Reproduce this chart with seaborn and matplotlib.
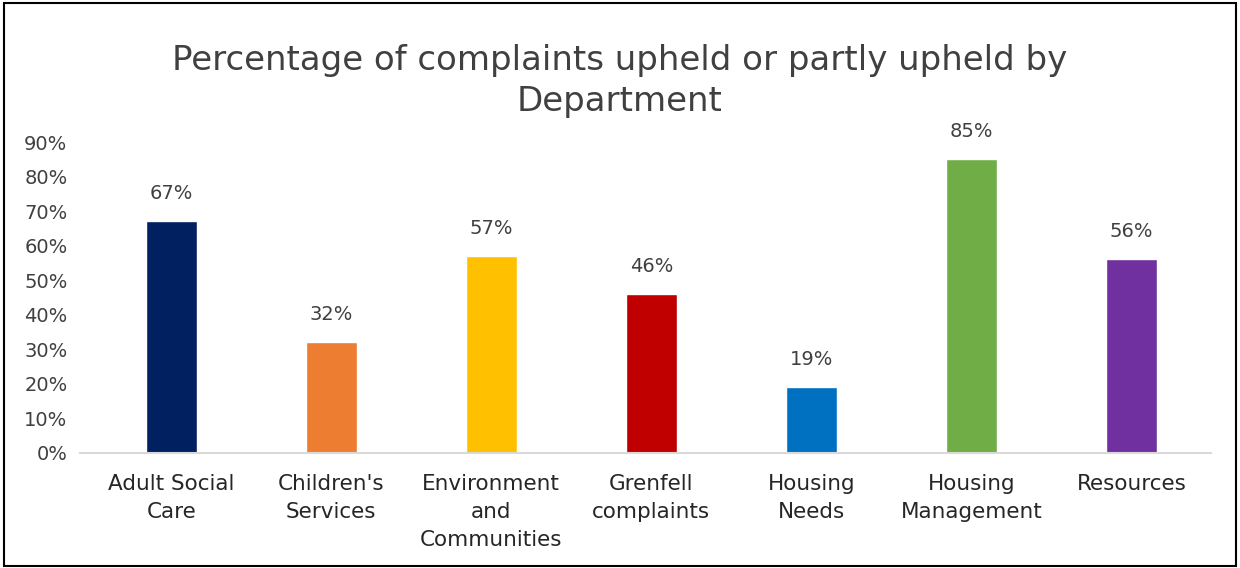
import matplotlib
matplotlib.use("Agg")
import matplotlib.pyplot as plt
import seaborn as sns
import pandas as pd
from matplotlib.patches import Rectangle

categories = ["Adult Social\nCare", "Children's\nServices", "Environment\nand\nCommunities",
              "Grenfell\ncomplaints", "Housing\nNeeds", "Housing\nManagement", "Resources"]
values = [67, 32, 57, 46, 19, 85, 56]
colors = ["#002060", "#ED7D31", "#FFC000", "#C00000", "#0070C0", "#70AD47", "#7030A0"]
yticks = [0, 10, 20, 30, 40, 50, 60, 70, 80, 90]

sns.set_theme(style="white")
plt.rcParams['font.family'] = ['DejaVu Sans']

fig = plt.figure(figsize=(12.4, 5.68), dpi=100)
ax = fig.add_axes([0.0645, 0.2025, 0.9125, 0.5475])

df = pd.DataFrame({"cat": categories, "val": values})
sns.barplot(data=df, x="cat", y="val", hue="cat", palette=colors, legend=False,
            width=0.32, ax=ax, saturation=1)

ax.set_ylim(0, 90)
ax.set_yticks(yticks)
ax.set_yticklabels([f"{t}%" for t in yticks], fontsize=14, color="#404040")
ax.tick_params(axis='y', length=0, pad=9)
ax.tick_params(axis='x', length=0, pad=15)
for lbl in ax.get_xticklabels():
    lbl.set_fontsize(15.5)
    lbl.set_color("#262626")
    lbl.set_linespacing(1.5)
ax.set_xlabel("")
ax.set_ylabel("")
for s in ["top", "right", "left"]:
    ax.spines[s].set_visible(False)
ax.spines["bottom"].set_color("#D9D9D9")
ax.spines["bottom"].set_linewidth(1.5)
ax.set_xlim(-0.57, 6.5)

for i, v in enumerate(values):
    ax.annotate(f"{v}%", (i, v), xytext=(0, 13), textcoords="offset points",
                ha="center", va="bottom", fontsize=14, color="#404040")

fig.text(0.5, 0.857, "Percentage of complaints upheld or partly upheld by\nDepartment",
         ha="center", va="center", fontsize=24.5, color="#404040", linespacing=1.3)

fig.patches.append(Rectangle((0.003, 0.004), 0.994, 0.99, transform=fig.transFigure,
                             fill=False, edgecolor="black", linewidth=1.5))

fig.savefig("out.png", dpi=100)
